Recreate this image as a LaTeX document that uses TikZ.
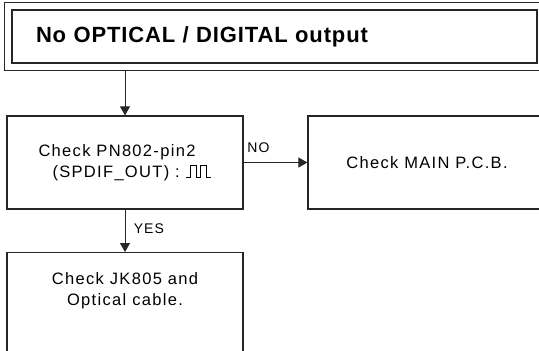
\documentclass[tikz,border=0pt]{standalone}
\usepackage{fontspec}
\setmainfont{Liberation Sans}
\newfontfamily\spacedfont[LetterSpace=8]{Liberation Sans}
\newfontfamily\titlefont[LetterSpace=4]{Liberation Sans}
\usetikzlibrary{arrows.meta,fit}

\newcommand{\pulsetrain}{\tikz[baseline=0pt,x=1pt,y=1pt,line width=0.8pt]
  \draw (0,0) -- (4,0) -- (4,12) -- (10,12) -- (10,0) -- (14,0) -- (14,12) -- (20,12) -- (20,0) -- (25,0);}

\begin{document}
\begin{tikzpicture}[x=1pt,y=-1pt,
  checkbox/.style={draw=black!85, line width=1.2pt, minimum width=236pt, minimum height=93pt,
    align=center, font=\spacedfont\fontsize{16.5}{21}\selectfont},
  arr/.style={-{Triangle[length=9pt,width=10pt]}, line width=0.9pt, draw=black!85},
  lbl/.style={font=\spacedfont\fontsize{14}{16}\selectfont}]
\useasboundingbox (0,0) rectangle (539,351);

\node[draw=black!85, line width=1.8pt, text width=477pt, inner xsep=24pt, minimum height=53pt,
  font=\titlefont\fontsize{22}{26}\selectfont\bfseries] (title) at (274.5,36.5) {No OPTICAL / DIGITAL output};
\node[draw=black!85, line width=1.3pt, fit=(title), inner sep=6.5pt] (frame) {};

\node[checkbox, align=left] (pin) at (125,162.5) {Check PN802-pin2\\\hspace*{14pt}(SPDIF\_OUT) : \pulsetrain};
\node[checkbox, minimum width=238pt] (main) at (427,162.5) {Check MAIN P.C.B.};
\node[checkbox, anchor=north, text height=50pt, text depth=80pt] (jack) at (125,252) {Check JK805 and\\Optical cable.};

\draw[arr] (pin.north |- frame.south) -- (pin.north);
\draw[arr] (pin.east) -- (main.west) node[lbl, pos=0, above right, yshift=6pt] {NO};
\draw[arr] (pin.south) -- (jack.north) node[lbl, pos=0.45, right=5pt] {YES};
\end{tikzpicture}
\end{document}
